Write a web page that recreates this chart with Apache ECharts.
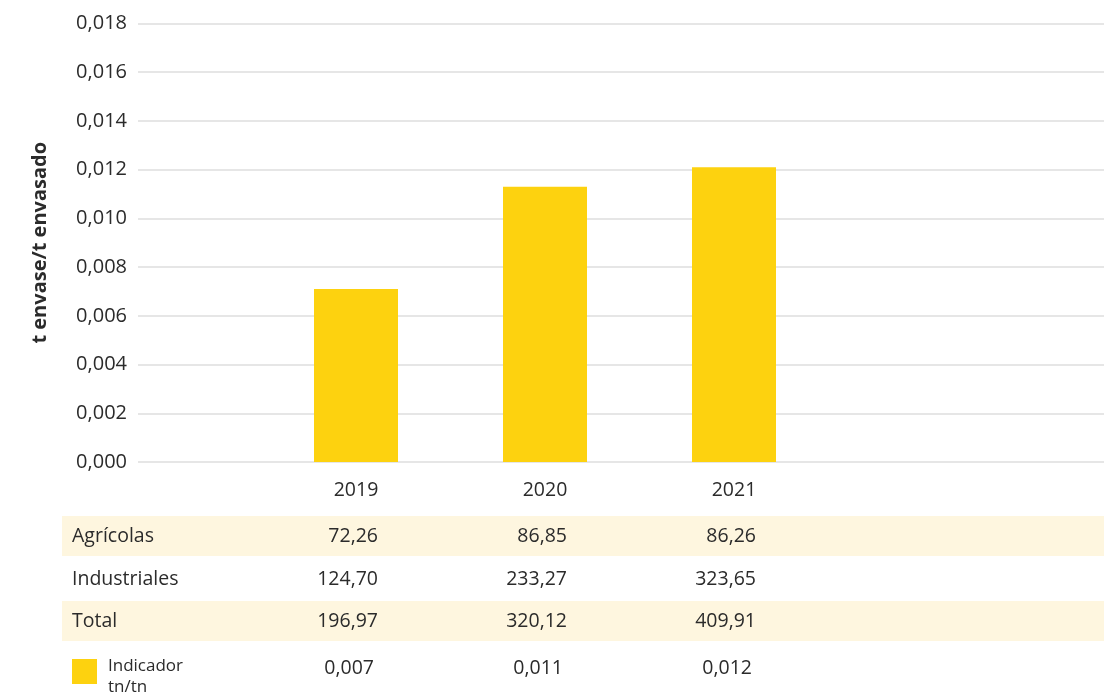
<!DOCTYPE html>
<html>
<head>
<meta charset="utf-8">
<script src="https://cdn.jsdelivr.net/npm/echarts@6/dist/echarts.min.js"></script>
<style>
html, body { margin: 0; padding: 0; background: #fff; }
#main { width: 1107px; height: 698px; }
</style>
</head>
<body>
<div id="main"></div>
<script>
// data
var years = ['2019', '2020', '2021'];
var indicador = [0.0071, 0.0113, 0.0121];   // t envase / t envasado
var agricolas = [72.26, 86.85, 86.26];
var industriales = [124.70, 233.27, 323.65];
var total = [196.97, 320.12, 409.91];
var rowNames = ['Agrícolas', 'Industriales', 'Total'];

var yellow = '#fdd20f';
var band = '#fef6df';
var textColor = '#2b2b2b';
var font = '"Open Sans", "Noto Sans", sans-serif';

function comma(v, d) {
    return v.toFixed(d).replace('.', ',');
}

var chart = echarts.init(document.getElementById('main'));

chart.setOption({
    animation: false,
    grid: [
        { left: 138, right: 3, top: 23.5, bottom: 236 },
        { left: 261.5, width: 567, top: 23.5, bottom: 236 }
    ],
    xAxis: [
        { type: 'category', gridIndex: 0, data: years, show: false },
        {
            type: 'category', gridIndex: 1, data: years,
            axisLine: { show: false },
            axisTick: { show: false },
            axisLabel: { color: textColor, fontSize: 19.5, fontFamily: font, margin: 18 }
        }
    ],
    yAxis: [
        {
            type: 'value', gridIndex: 0,
            min: 0, max: 0.018, interval: 0.002,
            name: 't envase/t envasado',
            nameLocation: 'middle',
            nameGap: 88,
            nameTextStyle: { color: textColor, fontSize: 20, fontWeight: 'bold', fontFamily: font },
            axisLine: { show: false },
            axisTick: { show: false },
            axisLabel: {
                color: textColor, fontSize: 20, fontFamily: font, margin: 11,
                formatter: function (v) { return comma(v, 3); }
            },
            splitLine: { lineStyle: { color: '#e6e6e6', width: 2 } }
        },
        { type: 'value', gridIndex: 1, min: 0, max: 0.018, interval: 0.002, show: false }
    ],
    series: [{
        type: 'bar',
        xAxisIndex: 1,
        yAxisIndex: 1,
        data: indicador,
        barWidth: 84,
        itemStyle: { color: yellow }
    }]
});

// table under the chart, columns follow the category axis
var rows = [agricolas, industriales, total];
var rowY = [536, 579, 621];
var elements = [
    { type: 'rect', shape: { x: 62, y: 516, width: 1042, height: 40 }, style: { fill: band }, z: 0 },
    { type: 'rect', shape: { x: 62, y: 601, width: 1042, height: 40 }, style: { fill: band }, z: 0 }
];

rows.forEach(function (row, r) {
    elements.push({
        type: 'text', x: 72, y: rowY[r], z: 2,
        style: { text: rowNames[r], fill: textColor, font: '19.5px ' + font, textAlign: 'left', textVerticalAlign: 'middle' }
    });
    row.forEach(function (v, i) {
        var cx = chart.convertToPixel({ xAxisIndex: 1 }, years[i]);
        elements.push({
            type: 'text', x: cx + 22, y: rowY[r], z: 2,
            style: { text: comma(v, 2), fill: textColor, font: '19.5px ' + font, textAlign: 'right', textVerticalAlign: 'middle' }
        });
    });
});

// indicator row with its legend swatch
elements.push({ type: 'rect', shape: { x: 72, y: 659, width: 25, height: 25 }, style: { fill: yellow }, z: 2 });
elements.push({
    type: 'text', x: 108, y: 656, z: 2,
    style: { text: 'Indicador\ntn/tn', fill: textColor, font: '17px ' + font, lineHeight: 21, textAlign: 'left', textVerticalAlign: 'top' }
});
indicador.forEach(function (v, i) {
    var cx = chart.convertToPixel({ xAxisIndex: 1 }, years[i]);
    elements.push({
        type: 'text', x: cx + 18, y: 668, z: 2,
        style: { text: comma(v, 3), fill: textColor, font: '19.5px ' + font, textAlign: 'right', textVerticalAlign: 'middle' }
    });
});

chart.setOption({ graphic: { elements: elements } });
</script>
</body>
</html>
